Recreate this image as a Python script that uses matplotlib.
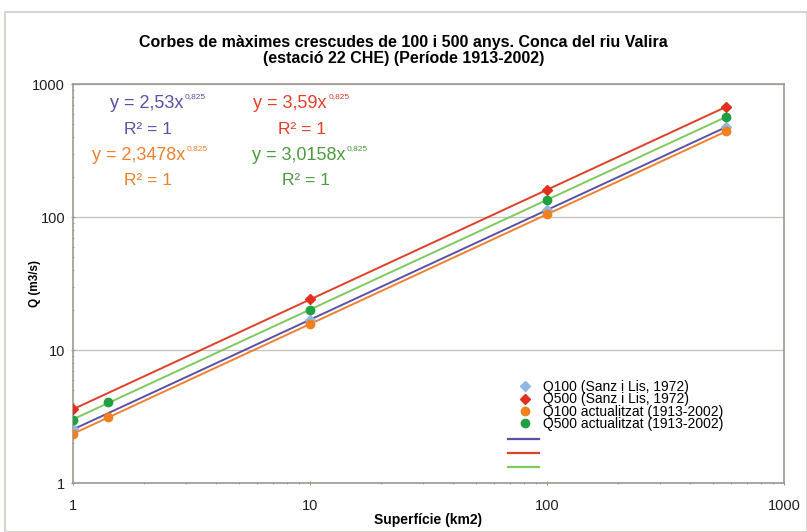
import numpy as np
import matplotlib.pyplot as plt
from matplotlib.patches import Rectangle

plt.rcParams['font.family'] = ['Liberation Sans', 'DejaVu Sans']

# superficie (km2) of the points
sup = [1, 1.41, 10, 100, 571]
q100_sanz = [2.53, None, 16.9, 113, 476]
q500_sanz = [3.59, None, 24.0, 160, 675]
q100_act = [2.35, 3.12, 15.7, 105, 441]
q500_act = [3.0, 4.05, 20.1, 135, 567]

# trend lines y = a * x^b
coef_a = [2.53, 3.59, 2.3478, 3.0158]
coef_txt = ['2,53', '3,59', '2,3478', '3,0158']
coef_b = 0.825
trend_cols = ['#5a50a8', '#e0402a', '#f08030', '#80c860']
text_cols = ['#5a50a8', '#e0402a', '#f08030', '#4c9a40']
trend_range = [1, 571]

fig = plt.figure(figsize=(8.07, 5.32), dpi=100)
fig.patches.append(Rectangle((0.006, 0.0), 0.994, 0.977, transform=fig.transFigure,
                             fill=False, edgecolor='#d8d4d0', linewidth=1.5))
ax = fig.add_axes([0.0905, 0.092, 0.881, 0.750])

xs = np.array(trend_range, dtype=float)
for a, c in zip(coef_a, trend_cols):
	ax.plot(xs, a * xs ** coef_b, '-', color=c, linewidth=1.4, zorder=2)

def pts(vals):
	x = [s for s, v in zip(sup, vals) if v is not None]
	y = [v for v in vals if v is not None]
	return x, y

x, y = pts(q100_sanz)
ax.plot(x, y, 'D', color='#90b8e0', markersize=5, linestyle='none', zorder=3)
x, y = pts(q500_sanz)
ax.plot(x, y, 'D', color='#e03020', markersize=5, linestyle='none', zorder=3)
x, y = pts(q100_act)
ax.plot(x, y, 'o', color='#f08020', markersize=6, linestyle='none', zorder=4)
x, y = pts(q500_act)
ax.plot(x, y, 'o', color='#20a040', markersize=6, linestyle='none', zorder=4)

ax.set_xscale('log')
ax.set_yscale('log')
ax.set_xlim(1, 1000)
ax.set_ylim(1, 1000)
ax.set_xticks([1, 10, 100, 1000])
ax.set_xticklabels(['1', '10', '100', '1000'])
ax.set_yticks([1, 10, 100, 1000])
ax.set_yticklabels(['1', '10', '100', '1000'])
ax.yaxis.grid(True, which='major', color='#c8c4c0', linewidth=1.0)
ax.set_axisbelow(True)
for sp in ax.spines.values():
	sp.set_color('#a09890')
	sp.set_linewidth(1.2)
ax.tick_params(axis='both', which='both', direction='inout', color='#a09890', labelsize=10.5, labelcolor='#202020')
ax.tick_params(axis='x', which='major', pad=10)
ax.tick_params(axis='y', which='major', pad=4)

ax.set_xlabel('Superfície (km2)', fontsize=10, fontweight='bold', labelpad=0)
ax.set_ylabel('Q (m3/s)', fontsize=8.5, fontweight='bold')
ax.yaxis.set_label_coords(-0.045, 0.5)
fig.text(0.5, 0.905, 'Corbes de màximes crescudes de 100 i 500 anys. Conca del riu Valira\n(estació 22 CHE) (Període 1913-2002)',
	ha='center', va='center', fontsize=11.5, fontweight='bold', linespacing=1.15)

# equations: join point of base and exponent, in axes fraction
eq_pos = [(0.155, 0.952), (0.357, 0.952), (0.158, 0.822), (0.383, 0.822)]
r2_pos = [(0.105, 0.887), (0.322, 0.887), (0.105, 0.759), (0.328, 0.759)]
for i in range(4):
	ex, ey = eq_pos[i]
	c = text_cols[i]
	ax.text(ex, ey, 'y = %sx' % coef_txt[i], transform=ax.transAxes,
		color=c, fontsize=13, ha='right', va='center')
	ax.annotate('0,825', (ex, ey), xycoords='axes fraction', xytext=(1, 5),
		textcoords='offset points', color=c, fontsize=6, ha='left', va='center')
	rx, ry = r2_pos[i]
	ax.text(rx, ry, 'R² = 1', transform=ax.transAxes, color=c, fontsize=12.5,
		ha='center', va='center')

# legend: points, then trend lines
pt_handles = [
	plt.Line2D([], [], marker='D', color='#90b8e0', linestyle='none', markersize=5),
	plt.Line2D([], [], marker='D', color='#e03020', linestyle='none', markersize=5),
	plt.Line2D([], [], marker='o', color='#f08020', linestyle='none', markersize=6),
	plt.Line2D([], [], marker='o', color='#20a040', linestyle='none', markersize=6),
]
pt_labels = ['Q100 (Sanz i Lis, 1972)', 'Q500 (Sanz i Lis, 1972)',
	'Q100 actualitzat (1913-2002)', 'Q500 actualitzat (1913-2002)']
leg1 = ax.legend(pt_handles, pt_labels, loc='upper left', bbox_to_anchor=(0.616, 0.258),
	frameon=False, fontsize=10, handlelength=2.0, labelspacing=-0.12, handletextpad=0.3,
	borderaxespad=0, borderpad=0)
ax.add_artist(leg1)
line_handles = [plt.Line2D([], [], color=trend_cols[i], linewidth=1.6) for i in (0, 1, 3)]
ax.legend(line_handles, ['', '', ''], loc='upper left', bbox_to_anchor=(0.612, 0.125),
	frameon=False, fontsize=10, handlelength=2.2, labelspacing=0.0, handletextpad=0,
	borderaxespad=0, borderpad=0)

fig.savefig('out.png', dpi=100)
